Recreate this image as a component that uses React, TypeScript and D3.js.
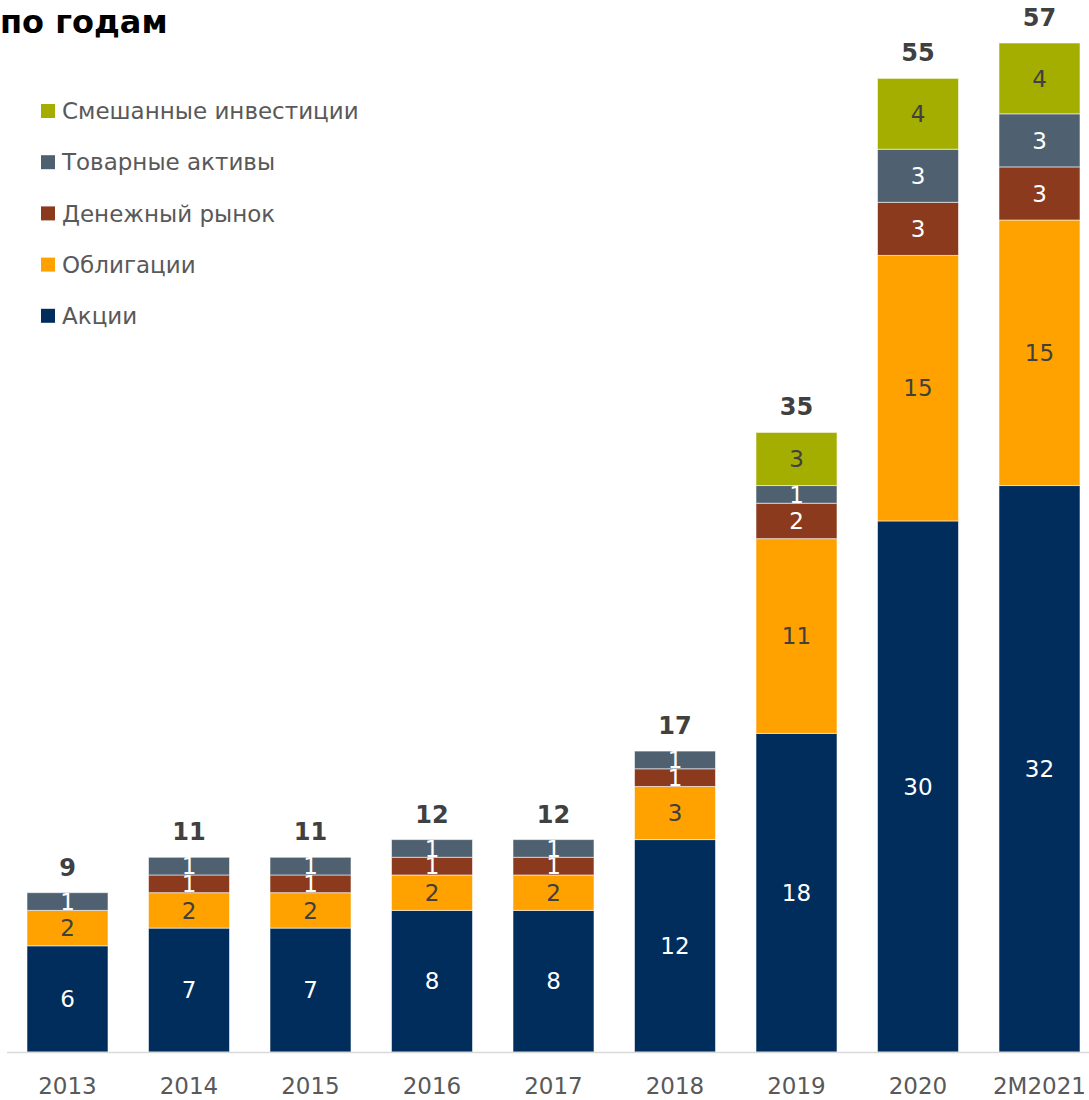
import React from "react";
import * as d3 from "d3";

const categories = ["2013", "2014", "2015", "2016", "2017", "2018", "2019", "2020", "2M2021"];
const seriesNames = ["Акции", "Облигации", "Денежный рынок", "Товарные активы", "Смешанные инвестиции"];
const akcii = [6, 7, 7, 8, 8, 12, 18, 30, 32];
const obligacii = [2, 2, 2, 2, 2, 3, 11, 15, 15];
const denezhny = [0, 1, 1, 1, 1, 1, 2, 3, 3];
const tovarnye = [1, 1, 1, 1, 1, 1, 1, 3, 3];
const smeshannye = [0, 0, 0, 0, 0, 0, 3, 4, 4];
const totals = [9, 11, 11, 12, 12, 17, 35, 55, 57];

const colors = ["#002D5C", "#FFA200", "#8B3A1E", "#4F6170", "#A3AE00"];
const labelColors = ["#ffffff", "#404040", "#ffffff", "#ffffff", "#404040"];

const W = 1089;
const H = 1100;
const FONT = "'DejaVu Sans', Verdana, sans-serif";

export default function App() {
  const series = [akcii, obligacii, denezhny, tovarnye, smeshannye];
  const rows = categories.map((c, i) => {
    const r: any = { cat: c };
    seriesNames.forEach((s, k) => (r[s] = series[k][i]));
    return r;
  });
  const stack = d3.stack<any>().keys(seriesNames)(rows);

  const x = d3.scaleBand().domain(categories).range([6.75, 1100.25]).paddingInner(1 / 3).paddingOuter(1 / 6);
  const y = d3.scaleLinear().domain([0, 57]).range([1052, 43]);
  const bw = x.bandwidth();

  const legendOrder = [4, 3, 2, 1, 0];

  return (
    <svg width={W} height={H} style={{ display: "block", position: "absolute", left: 0, top: 0, background: "#fff" }}>
      <text x={0} y={33} fontFamily={FONT} fontWeight="bold" fontSize={32} fill="#000">по годам</text>

      {stack.map((layer, k) => (
        <g key={k}>
          {layer.map((d, i) => {
            const v = d[1] - d[0];
            if (v <= 0) return null;
            const x0 = x(categories[i])!;
            const yTop = y(d[1]);
            const yBot = y(d[0]);
            return (
              <g key={i}>
                <rect x={x0} y={yTop} width={bw} height={yBot - yTop} fill={colors[k]} stroke="#ffffff" strokeOpacity={0.55} strokeWidth={1} />
                <text x={x0 + bw / 2} y={(yTop + yBot) / 2} dy="0.36em" textAnchor="middle" fontFamily={FONT} fontSize={23} fill={labelColors[k]}>
                  {v}
                </text>
              </g>
            );
          })}
        </g>
      ))}

      {totals.map((t, i) => (
        <text key={i} x={x(categories[i])! + bw / 2} y={y(t) - 17} textAnchor="middle" fontFamily={FONT} fontWeight="bold" fontSize={24} fill="#404040">
          {t}
        </text>
      ))}

      <line x1={7} x2={W} y1={1052.5} y2={1052.5} stroke="#D9D9D9" strokeWidth={1.5} />

      {categories.map((c, i) => (
        <text key={c} x={x(c)! + bw / 2} y={1094} textAnchor="middle" fontFamily={FONT} fontSize={23} fill="#595959">
          {c}
        </text>
      ))}

      {legendOrder.map((k, j) => {
        const cy = 111 + j * 51.2;
        return (
          <g key={k}>
            <rect x={41} y={cy - 7} width={14} height={14} fill={colors[k]} />
            <text x={62} y={cy} dy="0.36em" fontFamily={FONT} fontSize={23} fill="#595959">
              {seriesNames[k]}
            </text>
          </g>
        );
      })}
    </svg>
  );
}
